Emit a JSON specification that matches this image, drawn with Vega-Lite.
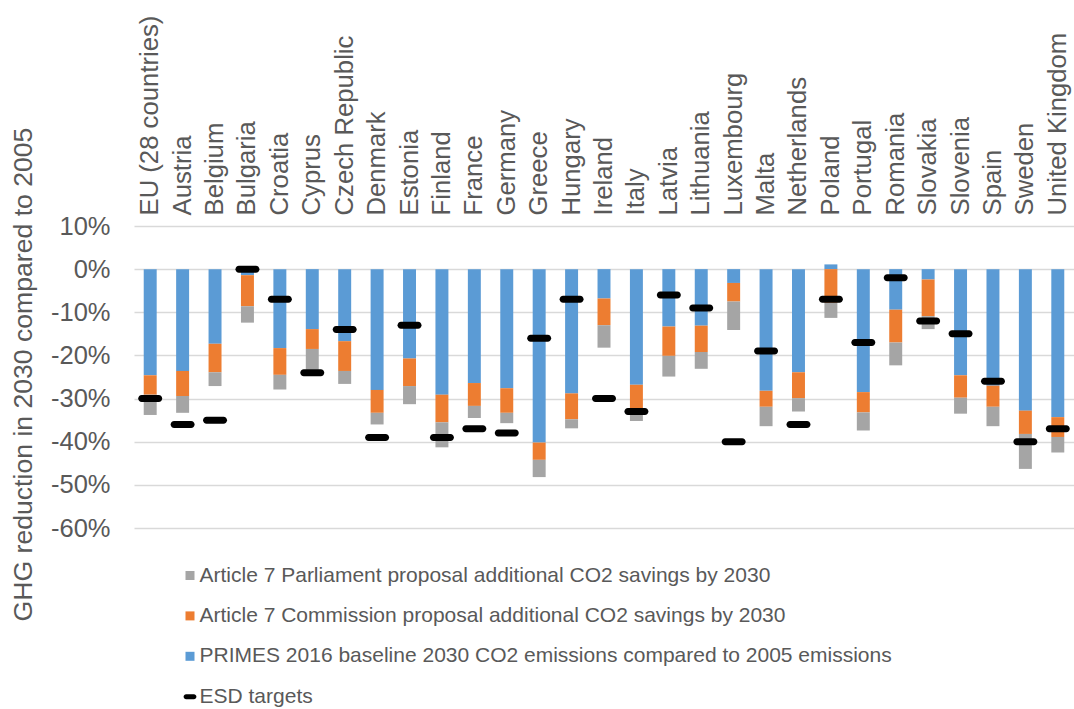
{
  "$schema": "https://vega.github.io/schema/vega-lite/v6.json",
  "width": 940,
  "height": 302,
  "autosize": {"type": "none"},
  "padding": {"left": 134, "top": 226, "right": 0, "bottom": 181},
  "background": "white",
  "config": {"font": "Liberation Sans", "view": {"stroke": null}},
  "data": {"values": [
    {"country": "EU (28 countries)", "p": -24.6, "c": -4.5, "a": -4.7, "t": -30},
    {"country": "Austria", "p": -23.6, "c": -5.8, "a": -3.9, "t": -36},
    {"country": "Belgium", "p": -17.3, "c": -6.6, "a": -3.2, "t": -35},
    {"country": "Bulgaria", "p": -1.4, "c": -7.2, "a": -3.8, "t": 0},
    {"country": "Croatia", "p": -18.3, "c": -6.2, "a": -3.4, "t": -7},
    {"country": "Cyprus", "p": -13.9, "c": -4.6, "a": -4.8, "t": -24},
    {"country": "Czech Republic", "p": -16.7, "c": -6.9, "a": -3.0, "t": -14},
    {"country": "Denmark", "p": -28.0, "c": -5.3, "a": -2.7, "t": -39},
    {"country": "Estonia", "p": -20.7, "c": -6.4, "a": -4.2, "t": -13},
    {"country": "Finland", "p": -29.1, "c": -6.4, "a": -5.8, "t": -39},
    {"country": "France", "p": -26.4, "c": -5.3, "a": -2.8, "t": -37},
    {"country": "Germany", "p": -27.6, "c": -5.7, "a": -2.4, "t": -38},
    {"country": "Greece", "p": -40.2, "c": -4.0, "a": -4.0, "t": -16},
    {"country": "Hungary", "p": -28.8, "c": -6.0, "a": -2.1, "t": -7},
    {"country": "Ireland", "p": -6.8, "c": -6.2, "a": -5.2, "t": -30},
    {"country": "Italy", "p": -26.8, "c": -5.4, "a": -3.0, "t": -33},
    {"country": "Latvia", "p": -13.3, "c": -6.8, "a": -4.8, "t": -6},
    {"country": "Lithuania", "p": -13.1, "c": -6.1, "a": -3.9, "t": -9},
    {"country": "Luxembourg", "p": -3.2, "c": -4.3, "a": -6.6, "t": -40},
    {"country": "Malta", "p": -28.2, "c": -3.7, "a": -4.5, "t": -19},
    {"country": "Netherlands", "p": -23.9, "c": -6.0, "a": -3.1, "t": -36},
    {"country": "Poland", "p": 1.1, "c": -7.8, "a": -3.5, "t": -7},
    {"country": "Portugal", "p": -28.5, "c": -4.7, "a": -4.2, "t": -17},
    {"country": "Romania", "p": -9.4, "c": -7.6, "a": -5.3, "t": -2},
    {"country": "Slovakia", "p": -2.4, "c": -8.5, "a": -3.0, "t": -12},
    {"country": "Slovenia", "p": -24.6, "c": -5.2, "a": -3.7, "t": -15},
    {"country": "Spain", "p": -27.0, "c": -4.9, "a": -4.5, "t": -26},
    {"country": "Sweden", "p": -32.8, "c": -5.4, "a": -8.1, "t": -40},
    {"country": "United Kingdom", "p": -34.3, "c": -4.6, "a": -3.6, "t": -37}
  ]},
  "transform": [
    {"fold": ["p", "c", "a", "t"], "as": ["s", "v"]},
    {"calculate": "indexof(['p','c','a','t'], datum.s)", "as": "o"}
  ],
  "encoding": {
    "x": {
      "field": "country", "type": "nominal", "sort": null,
      "scale": {"paddingInner": 0, "paddingOuter": 0},
      "axis": {
        "orient": "top", "title": null, "labelAngle": -90, "labelFontSize": 25.7,
        "labelColor": "#595959", "labelPadding": 11, "ticks": false, "domain": false,
        "labelLimit": 400, "grid": false
      }
    },
    "color": {
      "field": "s", "type": "nominal",
      "scale": {"domain": ["a", "c", "p", "t"], "range": ["#A5A5A5", "#ED7D31", "#5B9BD5", "#000000"]},
      "legend": {
        "orient": "none", "legendX": 45.5, "legendY": 339, "title": null,
        "labelFontSize": 21, "labelColor": "#595959", "labelLimit": 900,
        "symbolType": "square", "symbolSize": 81, "symbolStrokeWidth": 0,
        "rowPadding": 18.4, "labelOffset": -1, "padding": 0,
        "labelExpr": "{'a': 'Article 7 Parliament proposal additional CO2 savings by 2030', 'c': 'Article 7 Commission proposal additional CO2 savings by 2030', 'p': 'PRIMES 2016 baseline 2030 CO2 emissions compared to 2005 emissions', 't': 'ESD targets'}[datum.label]",
        "encode": {"symbols": {"update": {
          "shape": {"signal": "datum.value === 't' ? 'M-0.6,-0.38H0.6A0.38,0.38 0 0 1 0.6,0.38H-0.6A0.38,0.38 0 0 1 -0.6,-0.38Z' : 'square'"},
          "size": {"signal": "datum.value === 't' ? 169 : 81"}
        }}}
      }
    }
  },
  "layer": [
    {
      "transform": [{"filter": "datum.s !== 't'"}],
      "mark": {"type": "bar", "width": {"band": 0.4}},
      "encoding": {
        "y": {
          "field": "v", "type": "quantitative", "stack": "zero",
          "scale": {"domain": [-60, 10], "nice": false},
          "axis": {
            "values": [10, 0, -10, -20, -30, -40, -50, -60],
            "labelExpr": "datum.value + '%'", "labelFontSize": 25.5, "labelColor": "#595959",
            "labelPadding": 24, "ticks": false, "domain": false, "grid": true,
            "gridColor": "#D9D9D9", "gridWidth": 1.5,
            "title": "GHG reduction in 2030 compared to 2005", "titleFontSize": 26.6,
            "titleFontWeight": "normal", "titleColor": "#595959",
            "titleX": -111, "titleY": 148, "titleAngle": -90, "titleAlign": "center", "titleBaseline": "middle"
          }
        },
        "order": {"field": "o", "type": "quantitative"}
      }
    },
    {
      "transform": [{"filter": "datum.s === 't'"}],
      "mark": {"type": "tick", "size": 24, "thickness": 7, "cornerRadius": 3.5, "opacity": 1},
      "encoding": {
        "y": {"field": "v", "type": "quantitative", "stack": null, "title": "GHG reduction in 2030 compared to 2005"}
      }
    }
  ]
}
